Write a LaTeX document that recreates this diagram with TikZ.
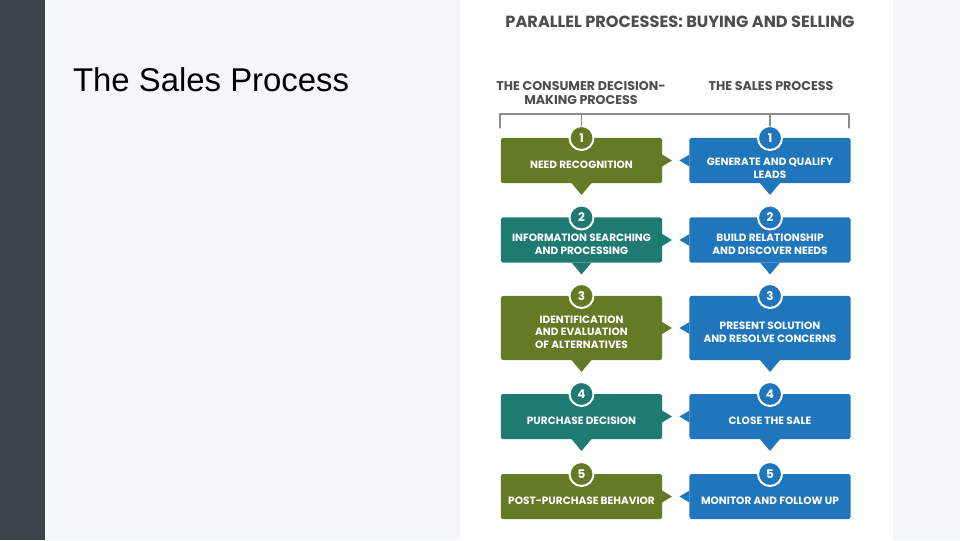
\documentclass[tikz,border=0pt]{standalone}
\usepackage{fontspec}
\setmainfont{Liberation Sans}
\newfontfamily\infofont{Poppins}

\definecolor{sidebar}{HTML}{3B434B}
\definecolor{slidebg}{HTML}{F3F7FA}
\definecolor{buyolive}{HTML}{647A25}
\definecolor{buyteal}{HTML}{1F7A72}
\definecolor{sellblue}{HTML}{2076BD}
\definecolor{headgrey}{HTML}{4D4D4D}
\definecolor{bracketgrey}{HTML}{8C8C8C}

\begin{document}
\begin{tikzpicture}[
			x=0.025cm, y=-0.025cm,
			every node/.style={inner sep=0pt, outer sep=0pt},
			stepbox/.style={rectangle, rounded corners=1.5pt, minimum width=4.025cm, minimum height=1.125cm},
			tallbox/.style={stepbox, minimum height=1.6cm},
			boxtext/.style={text=white, font=\infofont\bfseries\fontsize{7.5}{9}\selectfont, align=center, yshift=-3pt},
			numdot/.style={circle, draw=white, line width=1.4pt, minimum size=0.6cm, text=white, font=\infofont\bfseries\fontsize{8.5}{8.5}\selectfont},
			headtext/.style={text=headgrey, font=\infofont\bfseries\fontsize{9}{10}\selectfont, align=center},
			bracket/.style={draw=bracketgrey, line width=0.8pt},
			line cap=round,
			line join=round
			]
			\useasboundingbox (0,0) rectangle (960,540);
			\fill[slidebg] (0,0) rectangle (960,540);
			\fill[sidebar] (0,0) rectangle (45,540);
			\fill[white] (460,0) rectangle (893,540);
			
			\node[anchor=west, font=\fontsize{23.4}{28}\selectfont] (slide) at (73,80) {The Sales Process};
			
			\node[text=headgrey, font=\infofont\bfseries\fontsize{11.5}{13}\selectfont] (ttl) at (680,22) {PARALLEL PROCESSES: BUYING AND SELLING};
			\node[headtext] (hbuy) at (581,93) {THE CONSUMER DECISION-\\MAKING PROCESS};
			\node[headtext] (hsell) at (771,86) {THE SALES PROCESS};
			
			% buyer column
			\node[stepbox, fill=buyolive, label={[boxtext]center:NEED RECOGNITION}] (b1) at (581.5,160.5) {};
			\node[stepbox, fill=buyteal, label={[boxtext]center:{INFORMATION SEARCHING\\AND PROCESSING}}] (b2) at (581.5,240) {};
			\node[tallbox, fill=buyolive, label={[boxtext]center:{IDENTIFICATION\\AND EVALUATION\\OF ALTERNATIVES}}] (b3) at (581.5,328) {};
			\node[stepbox, fill=buyteal, label={[boxtext]center:PURCHASE DECISION}] (b4) at (581.5,416.5) {};
			\node[stepbox, fill=buyolive, label={[boxtext]center:POST-PURCHASE BEHAVIOR}] (b5) at (581.5,496.5) {};
			
			% seller column
			\node[stepbox, fill=sellblue, label={[boxtext, yshift=-2.5pt]center:{GENERATE AND QUALIFY\\LEADS}}] (s1) at (770,160.5) {};
			\node[stepbox, fill=sellblue, label={[boxtext]center:{BUILD RELATIONSHIP\\AND DISCOVER NEEDS}}] (s2) at (770,240) {};
			\node[tallbox, fill=sellblue, label={[boxtext]center:{PRESENT SOLUTION\\AND RESOLVE CONCERNS}}] (s3) at (770,328) {};
			\node[stepbox, fill=sellblue, label={[boxtext]center:CLOSE THE SALE}] (s4) at (770,416.5) {};
			\node[stepbox, fill=sellblue, label={[boxtext]center:MONITOR AND FOLLOW UP}] (s5) at (770,496.5) {};
			
			% pointers
			\fill[buyolive] (b1.east) ++(0,-6) -- ++(10,6) -- ++(-10,6) -- cycle;
			\fill[buyolive] (b1.south) ++(-10,0) -- ++(10,12) -- ++(10,-12) -- cycle;
			\fill[buyteal] (b2.east) ++(0,-6) -- ++(10,6) -- ++(-10,6) -- cycle;
			\fill[buyteal] (b2.south) ++(-10,0) -- ++(10,12) -- ++(10,-12) -- cycle;
			\fill[buyolive] (b3.east) ++(0,-6) -- ++(10,6) -- ++(-10,6) -- cycle;
			\fill[buyolive] (b3.south) ++(-10,0) -- ++(10,12) -- ++(10,-12) -- cycle;
			\fill[buyteal] (b4.east) ++(0,-6) -- ++(10,6) -- ++(-10,6) -- cycle;
			\fill[buyteal] (b4.south) ++(-10,0) -- ++(10,12) -- ++(10,-12) -- cycle;
			\fill[buyolive] (b5.east) ++(0,-6) -- ++(10,6) -- ++(-10,6) -- cycle;
			
			\fill[sellblue] (s1.west) ++(0,-6) -- ++(-10,6) -- ++(10,6) -- cycle;
			\fill[sellblue] (s1.south) ++(-10,0) -- ++(10,12) -- ++(10,-12) -- cycle;
			\fill[sellblue] (s2.west) ++(0,-6) -- ++(-10,6) -- ++(10,6) -- cycle;
			\fill[sellblue] (s2.south) ++(-10,0) -- ++(10,12) -- ++(10,-12) -- cycle;
			\fill[sellblue] (s3.west) ++(0,-6) -- ++(-10,6) -- ++(10,6) -- cycle;
			\fill[sellblue] (s3.south) ++(-10,0) -- ++(10,12) -- ++(10,-12) -- cycle;
			\fill[sellblue] (s4.west) ++(0,-6) -- ++(-10,6) -- ++(10,6) -- cycle;
			\fill[sellblue] (s4.south) ++(-10,0) -- ++(10,12) -- ++(10,-12) -- cycle;
			\fill[sellblue] (s5.west) ++(0,-6) -- ++(-10,6) -- ++(10,6) -- cycle;
			
			% step numbers
			\node[numdot, fill=buyolive] (nb1) at (b1.north) {1};
			\node[numdot, fill=buyteal] (nb2) at (b2.north) {2};
			\node[numdot, fill=buyolive] (nb3) at (b3.north) {3};
			\node[numdot, fill=buyteal] (nb4) at (b4.north) {4};
			\node[numdot, fill=buyolive] (nb5) at (b5.north) {5};
			\node[numdot, fill=sellblue] (ns1) at (s1.north) {1};
			\node[numdot, fill=sellblue] (ns2) at (s2.north) {2};
			\node[numdot, fill=sellblue] (ns3) at (s3.north) {3};
			\node[numdot, fill=sellblue] (ns4) at (s4.north) {4};
			\node[numdot, fill=sellblue] (ns5) at (s5.north) {5};
			
			% bracket under the headings
			\coordinate (brl) at (500,128);
			\coordinate (brtop) at (500,114);
			\coordinate (brr) at (849,128);
			\draw[bracket] (brl) -- (brtop) -| (brr);
			\draw[bracket] (nb1.north) -- (nb1 |- brtop);
			\draw[bracket] (ns1.north) -- (ns1 |- brtop);
		\end{tikzpicture}
\end{document}
